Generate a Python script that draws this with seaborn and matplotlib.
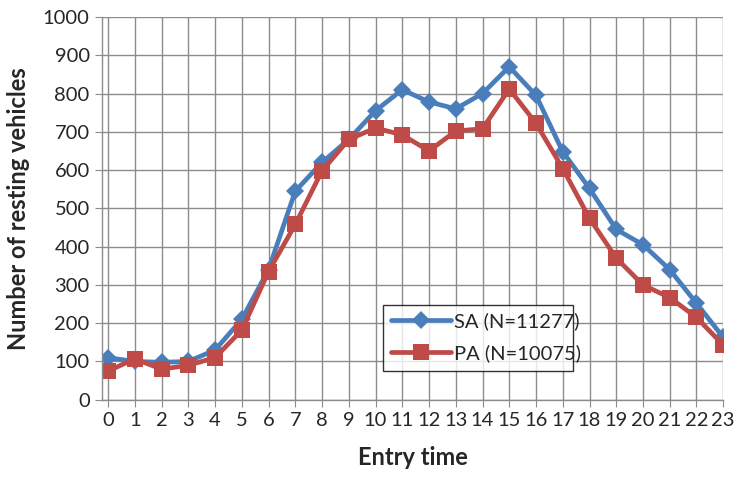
import pandas as pd
import numpy as np
import matplotlib.pyplot as plt
import seaborn as sns

# Datos
horas = list(range(24))
sa = [110, 100, 98, 100, 130, 210, 340, 545, 620, 680, 755, 810, 778, 760, 800, 870,
      795, 648, 552, 445, 405, 340, 252, 163]
pa = [75, 107, 80, 90, 110, 182, 335, 458, 598, 680, 710, 692, 650, 702, 708, 812,
      722, 604, 474, 370, 300, 267, 215, 143]
etiquetas = ["SA (N=11277)", "PA (N=10075)"]

df = pd.DataFrame({"hora": horas, "SA": sa, "PA": pa})

sns.set_style("white")
plt.rcParams['font.family'] = ['Lato', 'DejaVu Sans']

fig = plt.figure(figsize=(7.35, 4.84), dpi=100)
ax = fig.add_axes([0.139, 0.174, 0.845, 0.791])

sns.lineplot(x="hora", y="SA", data=df, ax=ax, color="#4a7ebb", linewidth=3.4,
             marker="D", markersize=9.5, markeredgewidth=0, label=etiquetas[0])
sns.lineplot(x="hora", y="PA", data=df, ax=ax, color="#be4b48", linewidth=3.4,
             marker="s", markersize=11.5, markeredgewidth=0, label=etiquetas[1])

ax.set_xlim(-0.22, 23)
ax.set_ylim(0, 1000)
ax.set_xticks(horas)
ax.set_yticks(range(0, 1001, 100))
ax.grid(True, color="#8c8c8c", linewidth=1)
ax.set_axisbelow(True)
for s in ["top", "right"]:
    ax.spines[s].set_visible(False)
for s in ["left", "bottom"]:
    ax.spines[s].set_color("#8c8c8c")
    ax.spines[s].set_linewidth(1)
ax.tick_params(axis="both", labelsize=14.5, length=5, color="#8c8c8c", direction="out",
               left=True, bottom=True, pad=4)

ax.set_xlabel("Entry time", fontsize=17, fontweight="bold", labelpad=12)
ax.set_ylabel("Number of resting vehicles", fontsize=17, fontweight="bold", labelpad=9)

leg = ax.legend(loc="lower left", bbox_to_anchor=(0.436, 0.05, 0.338, 0.204), mode="expand",
                fontsize=14.5, frameon=True, fancybox=False, edgecolor="black",
                handlelength=3.0, borderpad=0.4, labelspacing=0.7, handletextpad=0.1)
leg.get_frame().set_linewidth(1)

plt.savefig("out.png", dpi=100)
